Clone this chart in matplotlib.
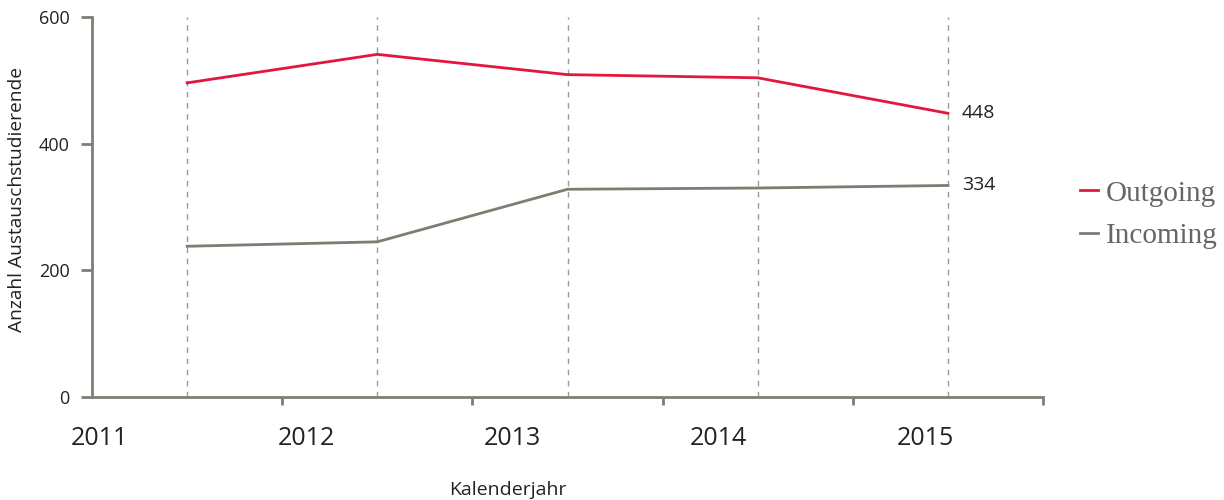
import numpy as np
import matplotlib.pyplot as plt

# Daten
jahre = ['2011', '2012', '2013', '2014', '2015']
outgoing = [496, 541, 509, 504, 448]
incoming = [238, 245, 328, 330, 334]

rot = '#e2173c'
grau = '#7d7d72'
achse = '#7f7f77'

plt.rcParams['font.family'] = ['Open Sans', 'DejaVu Sans']

fig = plt.figure(figsize=(12.24, 5), dpi=100)
ax = fig.add_axes([92 / 1224, 103 / 500, 951 / 1224, 380 / 500])

x = np.arange(len(jahre)) + 0.5

# gestrichelte Hilfslinien an den Datenpunkten
for xi in x:
    ax.axvline(xi, color='#9a9a9a', linestyle=(0, (4, 4)), linewidth=1, zorder=1)

ax.plot(x, outgoing, color=rot, linewidth=2, label='Outgoing', zorder=3)
ax.plot(x, incoming, color=grau, linewidth=2, label='Incoming', zorder=3)

# Werte am letzten Punkt
ax.annotate(str(outgoing[-1]), (x[-1], outgoing[-1]), xytext=(10, 0), textcoords='offset points',
            va='center', ha='left', fontsize=14, color='#222222')
ax.annotate(str(incoming[-1]), (x[-1], incoming[-1]), xytext=(10, 0), textcoords='offset points',
            va='center', ha='left', fontsize=14, color='#222222')

ax.set_xlim(0, 5)
ax.set_ylim(0, 600)
ax.set_yticks([0, 200, 400, 600])
ax.set_xticks(np.arange(1, 6))
ax.set_xticklabels([])

# Jahreszahlen unter der Achse
for i, j in enumerate(jahre):
    ax.text(0.04 + 1.085 * i, -65, j, ha='center', va='center', fontsize=18, color='#222222',
            clip_on=False)

ax.tick_params(axis='y', length=8, width=2, color=achse, labelsize=13, labelcolor='#222222', pad=8)
ax.tick_params(axis='x', length=6, width=2, color=achse)

for s in ['top', 'right']:
    ax.spines[s].set_visible(False)
for s in ['left', 'bottom']:
    ax.spines[s].set_color(achse)
    ax.spines[s].set_linewidth(2)

fig.text(17 / 1224, 1 - 200 / 500, 'Anzahl Austauschstudierende', rotation=90, ha='center', va='center',
         fontsize=13.8, color='#222222')
fig.text(508 / 1224, 1 - 490 / 500, 'Kalenderjahr', ha='center', va='center', fontsize=14, color='#222222')

leg = ax.legend(loc='center left', bbox_to_anchor=(1.027, 0.48), frameon=False, borderaxespad=0,
                handlelength=0.6, handletextpad=0.28, labelspacing=0.55,
                prop={'family': 'Liberation Serif', 'size': 21})
for t in leg.get_texts():
    t.set_color('#666666')

fig.savefig('out.png', dpi=100)
